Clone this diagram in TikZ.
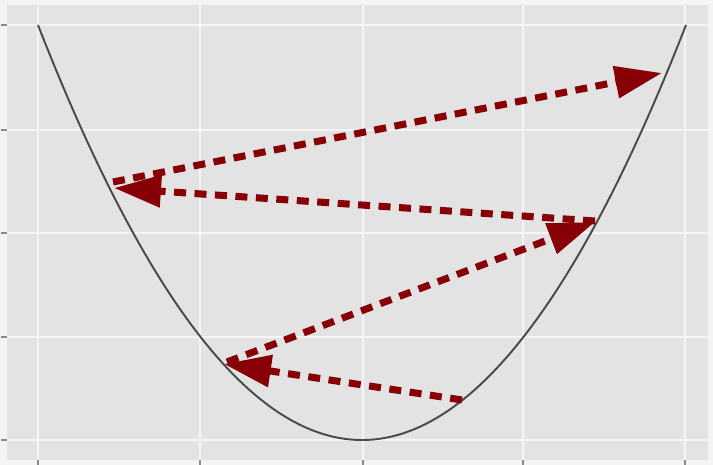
\documentclass[tikz,border=0pt]{standalone}
\usetikzlibrary{arrows.meta}
\definecolor{panelgray}{HTML}{E3E3E3}
\definecolor{outerbg}{HTML}{F4F4F4}
\definecolor{arrowred}{RGB}{135,0,5}
\definecolor{curvegray}{HTML}{4A4A4A}
\definecolor{tickgray}{HTML}{8A8A8A}
\definecolor{gridwhite}{HTML}{F5F5F5}
\tikzset{
  gridline/.style={gridwhite, line width=1.4pt},
  tickmark/.style={tickgray, line width=0.8pt},
  curveline/.style={curvegray, line width=1.1pt},
  steparrow/.style={arrowred, line width=4pt, dash pattern=on 0.24cm off 0.17cm,
    -{Triangle[length=0.94cm,width=0.62cm]}},
}
\begin{document}
\begin{tikzpicture}[x=0.02cm,y=-0.02cm]
  \useasboundingbox (0,0) rectangle (713,465);
  \fill[outerbg] (0,0) rectangle (713,465);
  \fill[panelgray] (7,5) rectangle (708,460);
  % grid
  \foreach \gx in {38,200,363,523,685} {
    \draw[gridline] (\gx,5) -- (\gx,460);
    \draw[tickmark] (\gx,460) -- (\gx,465);
  }
  \foreach \gy in {25,130,233,337,440} {
    \draw[gridline] (7,\gy) -- (708,\gy);
    \draw[tickmark] (1,\gy) -- (7,\gy);
  }
  % parabola
  \draw[curveline] plot[domain=38:686, samples=120, smooth] (\x, {440-415*((\x-362)/324)^2});
  % points
  \coordinate (s0) at (462,400);
  \coordinate (t1) at (224,364);
  \coordinate (s2) at (227,362);
  \coordinate (t2) at (595,222);
  \coordinate (s3) at (595,221);
  \coordinate (t3) at (114,188);
  \coordinate (s4) at (113,182);
  \coordinate (t4) at (662,73);
  % arrows
  \draw[steparrow] (s0) -- (t1);
  \draw[steparrow] (s2) -- (t2);
  \draw[steparrow] (s3) -- (t3);
  \draw[steparrow] (s4) -- (t4);
\end{tikzpicture}
\end{document}
